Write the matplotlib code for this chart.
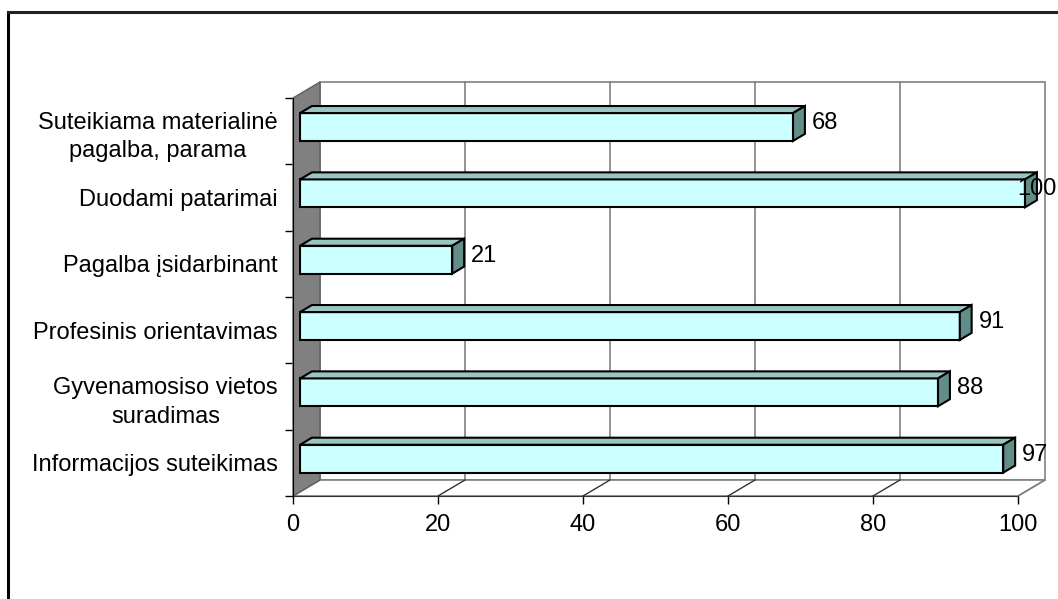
import matplotlib
matplotlib.use("Agg")
import matplotlib.pyplot as plt
from matplotlib.patches import Polygon
from matplotlib.lines import Line2D

# Data (bottom to top)
categories = ["Informacijos suteikimas",
              "Gyvenamosiso vietos\nsuradimas",
              "Profesinis orientavimas",
              "Pagalba įsidarbinant",
              "Duodami patarimai",
              "Suteikiama materialinė\npagalba, parama"]
values = [97, 88, 91, 21, 100, 68]
xticks = [0, 20, 40, 60, 80, 100]

plt.rcParams['font.family'] = ['Liberation Sans', 'DejaVu Sans']
FS = 17

fig = plt.figure(figsize=(10.58, 5.99), dpi=100)
W, H = 1058.0, 599.0
# front plane of the 3D box: x 0..100 -> px 293..1018, y 0..6 -> px 496..98
ax = fig.add_axes([293 / W, (H - 496) / H, 725 / W, 398 / H])
ax.set_xlim(0, 100)
ax.set_ylim(0, len(categories))
ax.patch.set_alpha(0)

# depth of the box in data units
Dx = 27 / 7.25
Dy = 16 / 66.33
n = len(categories)

grid = "#808080"
# back wall
ax.add_patch(Polygon([(Dx, Dy), (100 + Dx, Dy), (100 + Dx, n + Dy), (Dx, n + Dy)],
                     closed=True, facecolor="white", edgecolor=grid, lw=1.2,
                     clip_on=False, zorder=0))
for t in xticks[1:-1]:
    ax.add_line(Line2D([t + Dx, t + Dx], [Dy, n + Dy], color=grid, lw=1.2,
                       clip_on=False, zorder=1))
# floor
ax.add_patch(Polygon([(0, 0), (100, 0), (100 + Dx, Dy), (Dx, Dy)], closed=True,
                     facecolor="white", edgecolor=grid, lw=1.2, clip_on=False, zorder=1))
for t in xticks[1:]:
    ax.add_line(Line2D([t, t + Dx], [0, Dy], color="#333333" if t < 100 else grid,
                       lw=1.0, clip_on=False, zorder=1))
# left wall
ax.add_patch(Polygon([(0, 0), (Dx, Dy), (Dx, n + Dy), (0, n)], closed=True,
                     facecolor="#808080", edgecolor="#606060", lw=1.0,
                     clip_on=False, zorder=2))

# bars
f1, f2 = 0.26, 0.70
h = 0.42
front = "#CCFFFF"
top = "#99C6C2"
side = "#628E8A"
ys = [i + 0.5 + f1 * Dy for i in range(n)]
bars = ax.barh(ys, values, height=h, left=f1 * Dx, color=front, edgecolor="black",
               lw=1.5, zorder=5)
for b in bars:
    b.set_clip_on(False)
ddx = (f2 - f1) * Dx
ddy = (f2 - f1) * Dy
for y, v in zip(ys, values):
    x0 = f1 * Dx
    x1 = v + f1 * Dx
    yb = y - h / 2
    yt = y + h / 2
    ax.add_patch(Polygon([(x0, yt), (x1, yt), (x1 + ddx, yt + ddy), (x0 + ddx, yt + ddy)],
                         closed=True, facecolor=top, edgecolor="black", lw=1.5,
                         zorder=5, clip_on=False))
    ax.add_patch(Polygon([(x1, yb), (x1, yt), (x1 + ddx, yt + ddy), (x1 + ddx, yb + ddy)],
                         closed=True, facecolor=side, edgecolor="black", lw=1.5,
                         zorder=5, clip_on=False))
    # keep the label inside the picture (reference clips "100" at the edge)
    ax.text(min(v + 5.4, 102.6), y + 0.06, str(v), ha="center", va="center",
            fontsize=FS, zorder=6, clip_on=False)

# axes, ticks, labels
for s in ["top", "right"]:
    ax.spines[s].set_visible(False)
ax.spines["left"].set_color("black")
ax.spines["bottom"].set_color("#333333")
ax.spines["left"].set_zorder(3)
ax.set_xticks(xticks)
ax.set_xticklabels([str(t) for t in xticks], fontsize=FS)
ax.tick_params(axis="x", length=6, width=1, direction="out", pad=7)
ax.set_yticks(range(n + 1))
ax.set_yticklabels([])
ax.tick_params(axis="y", which="major", length=6, width=1, direction="out")
ax.set_yticks([i + 0.5 for i in range(n)], minor=True)
ax.set_yticklabels(categories, minor=True, fontsize=FS, multialignment="center",
                   linespacing=1.4)
ax.tick_params(axis="y", which="minor", length=0, pad=11)

# chart frame
fig.add_artist(Line2D([8 / W, 8 / W], [0, 1 - 12 / H], color="black", lw=2.2,
                      transform=fig.transFigure))
fig.add_artist(Line2D([8 / W, 1], [1 - 12 / H, 1 - 12 / H], color="#222222", lw=2.2,
                      transform=fig.transFigure))

fig.savefig("out.png", dpi=100)
